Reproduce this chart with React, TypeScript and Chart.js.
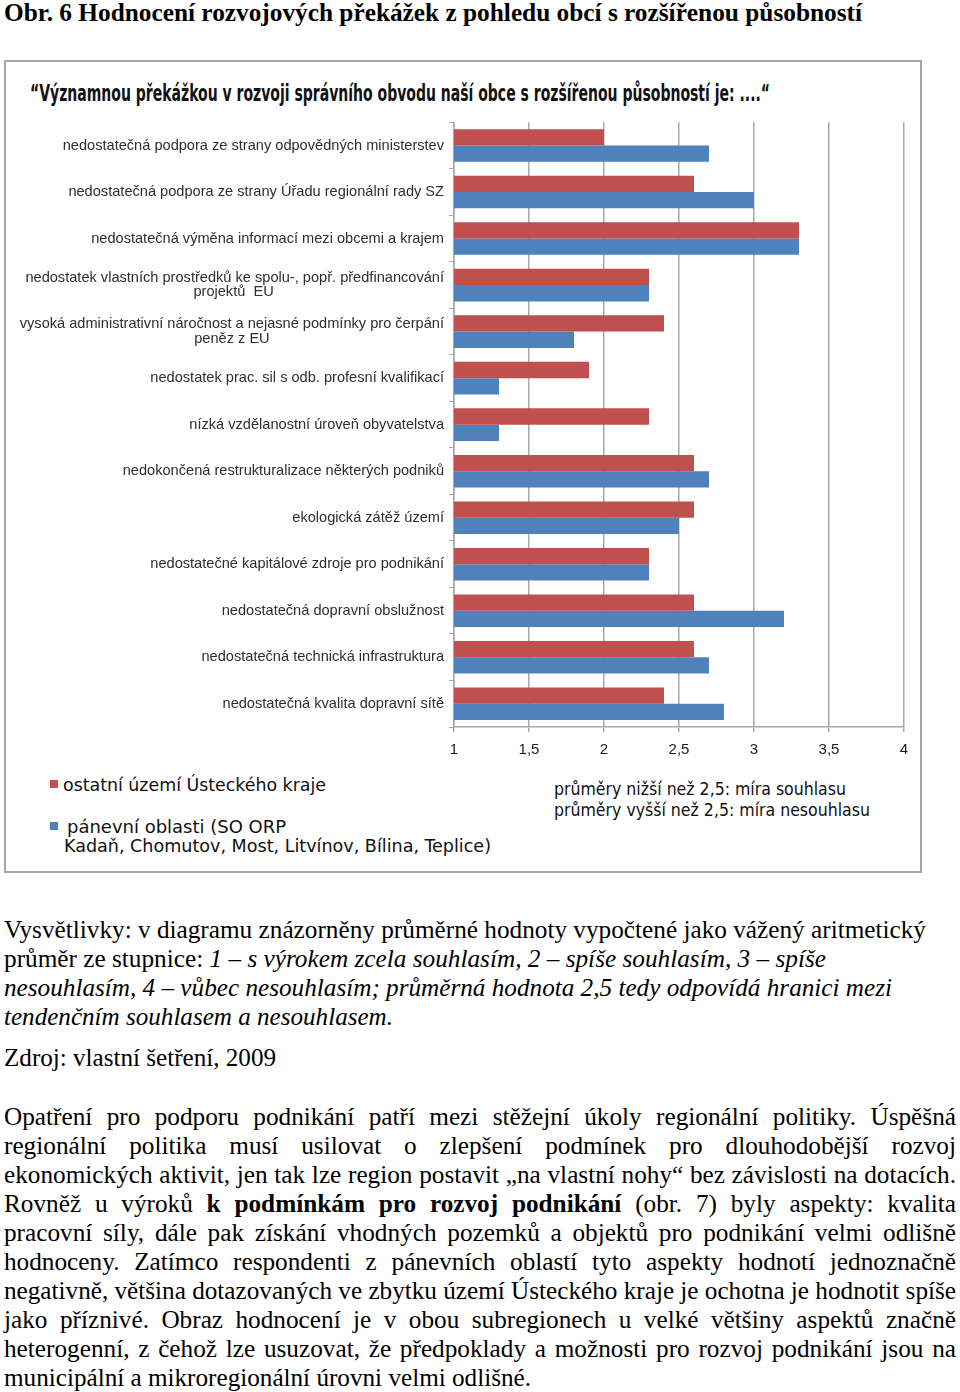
import React, { useEffect, useLayoutEffect, useRef } from "react";
import { Chart, registerables } from "chart.js";

Chart.register(...registerables);

// ---------- DATA ----------
const categories: (string | string[])[] = [
  "nedostatečná podpora ze strany odpovědných ministerstev",
  "nedostatečná podpora ze strany Úřadu regionální rady SZ",
  "nedostatečná výměna informací mezi obcemi a krajem",
  ["nedostatek vlastních prostředků ke spolu-, popř. předfinancování", "projektů  EU"],
  ["vysoká administrativní náročnost a nejasné podmínky pro čerpání", "peněz z EU"],
  "nedostatek prac. sil s odb. profesní kvalifikací",
  "nízká vzdělanostní úroveň obyvatelstva",
  "nedokončená restrukturalizace některých podniků",
  "ekologická zátěž území",
  "nedostatečné kapitálové zdroje pro podnikání",
  "nedostatečná dopravní obslužnost",
  "nedostatečná technická infrastruktura",
  "nedostatečná kvalita dopravní sítě",
];

const ostatniUzemi = [2.0, 2.6, 3.3, 2.3, 2.4, 1.9, 2.3, 2.6, 2.6, 2.3, 2.6, 2.6, 2.4];
const panevniOblasti = [2.7, 3.0, 3.3, 2.3, 1.8, 1.3, 1.3, 2.7, 2.5, 2.3, 3.2, 2.7, 2.8];

const seriesNames = [
  "ostatní území Ústeckého kraje",
  "pánevní oblasti (SO ORP Kadaň, Chomutov, Most, Litvínov, Bílina, Teplice)",
];
const xMin = 1;
const xMax = 4;
const xStep = 0.5;

const chartTitle =
  "\u201CVýznamnou překážkou v rozvoji správního obvodu naší obce s rozšířenou působností je: ....\u201C";
const heading = "Obr. 6 Hodnocení rozvojových překážek z pohledu obcí s rozšířenou působností";

// ---------- TEXT HELPERS ----------
type Seg = { t: string; i?: boolean; b?: boolean };

const SERIF = '"Liberation Serif", "Times New Roman", serif';
const SANS = '"Liberation Sans", Arial, sans-serif';
const NARROW = '"Liberation Sans Narrow", "DejaVu Sans Condensed", "Liberation Sans", sans-serif';
const LABEL_SIZE = 14.6;

// centre the 2nd line of a two-line category label under the first one
let measureCtx: CanvasRenderingContext2D | null = null;
function centredLabel(label: string | string[]): string | string[] {
  if (!Array.isArray(label)) return label;
  if (!measureCtx) measureCtx = document.createElement("canvas").getContext("2d");
  const c = measureCtx!;
  c.font = `${LABEL_SIZE}px ${SANS}`;
  const w1 = c.measureText(label[0]).width;
  const w2 = c.measureText(label[1]).width;
  const sp = c.measureText(" ").width || 4;
  const n = Math.max(0, Math.round((w1 - w2) / 2 / sp));
  return [label[0], label[1] + " ".repeat(n)];
}

function Line(props: {
  x: number;
  cy: number;
  w: number;
  segs: Seg[];
  family: string;
  size: number;
  weight?: number;
  color?: string;
  justify?: boolean;
  kref?: boolean;
  lh?: number;
}) {
  const lh = props.lh ?? 29;
  return (
    <div
      style={{
        position: "absolute",
        left: props.x,
        top: props.cy - lh / 2,
        height: lh,
        lineHeight: lh + "px",
        whiteSpace: "nowrap",
        fontFamily: props.family,
        fontSize: props.size,
        fontWeight: props.weight ?? 400,
        color: props.color ?? "#000",
      }}
    >
      <span
        data-fit="1"
        data-w={props.w}
        data-j={props.justify ? "1" : undefined}
        data-kref={props.kref ? "1" : undefined}
        style={{ display: "inline-block", transformOrigin: "0 50%", whiteSpace: "nowrap" }}
      >
        {props.segs.map((s, i) => (
          <span
            key={i}
            style={{ fontStyle: s.i ? "italic" : "normal", fontWeight: s.b ? 700 : undefined }}
          >
            {s.t}
          </span>
        ))}
      </span>
    </div>
  );
}

const p2Lines: Seg[][] = [
  [{ t: "Opatření pro podporu podnikání patří mezi stěžejní úkoly regionální politiky. Úspěšná" }],
  [{ t: "regionální politika musí usilovat o zlepšení podmínek pro dlouhodobější rozvoj" }],
  [{ t: "ekonomických aktivit, jen tak lze region postavit \u201Ena vlastní nohy\u201C bez závislosti na dotacích." }],
  [
    { t: "Rovněž u výroků " },
    { t: "k podmínkám pro rozvoj podnikání", b: true },
    { t: " (obr. 7) byly aspekty: kvalita" },
  ],
  [{ t: "pracovní síly, dále pak získání vhodných pozemků a objektů pro podnikání velmi odlišně" }],
  [{ t: "hodnoceny. Zatímco respondenti z pánevních oblastí tyto aspekty hodnotí jednoznačně" }],
  [{ t: "negativně, většina dotazovaných ve zbytku území Ústeckého kraje je ochotna je hodnotit spíše" }],
  [{ t: "jako příznivé. Obraz hodnocení je v obou subregionech u velké většiny aspektů značně" }],
  [{ t: "heterogenní, z čehož lze usuzovat, že předpoklady a možnosti pro rozvoj podnikání jsou na" }],
];

// ---------- CHART ----------
function BarChart() {
  const ref = useRef<HTMLCanvasElement>(null);
  useEffect(() => {
    const ctx = ref.current!;
    const chart = new Chart(ctx, {
      type: "bar",
      data: {
        labels: categories as any,
        datasets: [
          {
            label: seriesNames[0],
            data: ostatniUzemi,
            backgroundColor: "#C0504D",
            borderWidth: 0,
            categoryPercentage: 0.7,
            barPercentage: 1.0,
          },
          {
            label: seriesNames[1],
            data: panevniOblasti,
            backgroundColor: "#4F81BD",
            borderWidth: 0,
            categoryPercentage: 0.7,
            barPercentage: 1.0,
          },
        ],
      },
      options: {
        indexAxis: "y",
        animation: false,
        responsive: false,
        devicePixelRatio: 1,
        layout: { padding: { top: 11, right: 56, left: 0, bottom: 0 } },
        plugins: {
          legend: { display: false },
          tooltip: { enabled: false },
          title: { display: false },
        },
        scales: {
          x: {
            type: "linear",
            min: xMin,
            max: xMax,
            afterFit: (s: any) => {
              s.height = 43;
            },
            ticks: {
              stepSize: xStep,
              color: "#1a1a1a",
              font: { family: SANS, size: 15 },
              padding: 9,
              callback: (v: any) => String(v).replace(".", ","),
            },
            grid: {
              color: "#a8a8a8",
              lineWidth: 1.5,
              tickLength: 5,
              drawTicks: true,
            },
            border: { display: true, color: "#a8a8a8", width: 1.5 },
          },
          y: {
            type: "category",
            afterFit: (s: any) => {
              s.width = 454;
            },
            ticks: {
              color: "#2e2e2e",
              font: { family: SANS, size: LABEL_SIZE, lineHeight: 1.0 },
              padding: 5,
              autoSkip: false,
              callback: (_v: any, i: number) => centredLabel(categories[i]) as any,
            },
            grid: {
              offset: true,
              drawOnChartArea: false,
              drawTicks: true,
              tickLength: 5,
              color: "#a8a8a8",
              lineWidth: 1,
            },
            border: { display: true, color: "#a8a8a8", width: 1.5 },
          },
        },
      },
    });
    return () => chart.destroy();
  }, []);
  return (
    <canvas
      ref={ref}
      width={960}
      height={660}
      style={{ position: "absolute", left: 0, top: 110, width: 960, height: 660 }}
    />
  );
}

// ---------- APP ----------
export default function App() {
  const rootRef = useRef<HTMLDivElement>(null);

  useLayoutEffect(() => {
    const fit = () => {
      const root = rootRef.current;
      if (!root) return;
      const spans = Array.from(root.querySelectorAll<HTMLSpanElement>("span[data-fit]"));
      const nat = new Map<HTMLSpanElement, number>();
      spans.forEach((s) => {
        s.style.transform = "none";
        s.style.wordSpacing = "0px";
      });
      spans.forEach((s) => nat.set(s, s.getBoundingClientRect().width));
      let k = 1;
      const kr = spans.find((s) => s.dataset.kref);
      if (kr) k = Number(kr.dataset.w) / (nat.get(kr) || 1);
      spans.forEach((s) => {
        const w = Number(s.dataset.w);
        const n = nat.get(s) || 1;
        if (s.dataset.j) {
          const spaces = ((s.textContent || "").match(/ /g) || []).length;
          let sc = k;
          let ws = spaces ? (w / k - n) / spaces : 0;
          if (ws < 0) {
            sc = w / n;
            ws = 0;
          }
          s.style.wordSpacing = ws + "px";
          s.style.transform = `scaleX(${sc})`;
        } else {
          s.style.transform = `scaleX(${w / n})`;
        }
      });
    };
    fit();
    if ((document as any).fonts?.ready) (document as any).fonts.ready.then(fit);
  }, []);

  return (
    <div
      ref={rootRef}
      style={{
        position: "absolute",
        left: 0,
        top: 0,
        width: 960,
        height: 1392,
        overflow: "hidden",
        background: "#fff",
      }}
    >
      <Line x={4} cy={12} w={858} segs={[{ t: heading }]} family={SERIF} size={25} weight={700} />

      {/* chart frame */}
      <div
        style={{
          position: "absolute",
          left: 4,
          top: 60,
          width: 914,
          height: 809,
          border: "2px solid #a6a6a6",
          background: "#fff",
        }}
      />
      <BarChart />
      <Line x={30} cy={93} w={740} segs={[{ t: chartTitle }]} family={NARROW} size={23} weight={700} color="#111" />

      {/* legend */}
      <div style={{ position: "absolute", left: 50, top: 780, width: 8, height: 8, background: "#C0504D" }} />
      <Line x={63} cy={785} w={263} segs={[{ t: "ostatní území Ústeckého kraje" }]} family={NARROW} size={17} color="#111" lh={22} />
      <div style={{ position: "absolute", left: 50, top: 822, width: 8, height: 8, background: "#4F81BD" }} />
      <Line x={67} cy={827} w={219} segs={[{ t: "pánevní oblasti (SO ORP" }]} family={NARROW} size={17} color="#111" lh={22} />
      <Line x={64} cy={846} w={427} segs={[{ t: "Kadaň, Chomutov, Most, Litvínov, Bílina, Teplice)" }]} family={NARROW} size={17} color="#111" lh={22} />
      <Line x={554} cy={789} w={292} segs={[{ t: "průměry nižší než 2,5: míra souhlasu" }]} family={NARROW} size={17} color="#111" lh={22} />
      <Line x={554} cy={810} w={316} segs={[{ t: "průměry vyšší než 2,5: míra nesouhlasu" }]} family={NARROW} size={17} color="#111" lh={22} />

      {/* explanations */}
      <Line
        x={4}
        cy={929}
        w={922}
        kref
        segs={[{ t: "Vysvětlivky: v diagramu znázorněny průměrné hodnoty vypočtené jako vážený aritmetický" }]}
        family={SERIF}
        size={25}
      />
      <Line
        x={4}
        cy={958}
        w={822}
        segs={[
          { t: "průměr ze stupnice: " },
          { t: "1 – s výrokem zcela souhlasím, 2 – spíše souhlasím, 3 – spíše", i: true },
        ]}
        family={SERIF}
        size={25}
      />
      <Line
        x={4}
        cy={987}
        w={888}
        segs={[{ t: "nesouhlasím, 4 – vůbec nesouhlasím; průměrná hodnota 2,5 tedy odpovídá hranici mezi", i: true }]}
        family={SERIF}
        size={25}
      />
      <Line
        x={4}
        cy={1016}
        w={389}
        segs={[{ t: "tendenčním souhlasem a nesouhlasem.", i: true }]}
        family={SERIF}
        size={25}
      />
      <Line x={4} cy={1057} w={272} segs={[{ t: "Zdroj: vlastní šetření, 2009" }]} family={SERIF} size={25} />

      {p2Lines.map((segs, i) => (
        <Line key={i} x={4} cy={1116 + i * 29} w={952} justify segs={segs} family={SERIF} size={25} />
      ))}
      <Line
        x={4}
        cy={1116 + 9 * 29}
        w={527}
        segs={[{ t: "municipální a mikroregionální úrovni velmi odlišné." }]}
        family={SERIF}
        size={25}
      />
    </div>
  );
}
